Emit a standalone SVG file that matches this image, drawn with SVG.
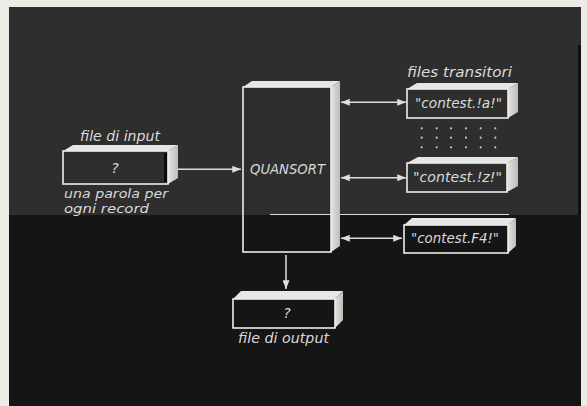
<svg xmlns="http://www.w3.org/2000/svg" width="587" height="406" viewBox="0 0 587 406">
<defs>
<marker id="ah" viewBox="0 0 10 8" refX="10" refY="4" markerWidth="9" markerHeight="7" markerUnits="userSpaceOnUse" orient="auto-start-reverse">
<path d="M0,0 L10,4 L0,8 z" fill="#dedede"/>
</marker>
<linearGradient id="side" x1="0" y1="0" x2="1" y2="0">
<stop offset="0" stop-color="#e4e4e0"/>
<stop offset="1" stop-color="#bdbdb8"/>
</linearGradient>
</defs>
<style>
.t{font-family:"DejaVu Sans","Liberation Sans",sans-serif;font-style:italic;fill:#dadada;font-size:14px}
.s{font-size:12.5px}
.face{fill:none;stroke:#ededed;stroke-width:1.6}
.top{fill:#e6e6e2}
.side{fill:url(#side)}
.con{stroke:#dedede;stroke-width:1.5;fill:none}
.dot{fill:#c8c8c8}
</style>
<rect x="0" y="0" width="587" height="406" fill="#ecebe6"/>
<rect x="9" y="7" width="572" height="208" fill="#2e2e2e"/>
<rect x="9" y="215" width="572" height="191" fill="#151515"/>
<rect x="578" y="45" width="3" height="170" fill="#111"/>
<line x1="270" y1="214.5" x2="509" y2="214.5" stroke="#d8d8d8" stroke-width="1"/>

<g id="input">
<polygon class="top" points="63,151 73,145 178,145 168,151"/>
<polygon class="side" points="168,151 178,145 178,178 168,184"/>
<rect class="face" x="63" y="151" width="105" height="33"/>
<rect x="164" y="153" width="3" height="29" fill="#0a0a0a"/>
<text class="t" x="120" y="141" text-anchor="middle" textLength="80" lengthAdjust="spacingAndGlyphs">file di input</text>
<text class="t" x="115" y="173" text-anchor="middle">?</text>
<text class="t s" x="64" y="198" textLength="104" lengthAdjust="spacingAndGlyphs">una parola per</text>
<text class="t s" x="64" y="212.5" textLength="85" lengthAdjust="spacingAndGlyphs">ogni record</text>
</g>

<g id="quansort">
<polygon class="top" points="243,87 252,81 340,81 331,87"/>
<polygon class="side" points="331,87 340,81 340,246 331,252"/>
<rect class="face" x="243" y="87" width="88" height="165"/>
<text class="t" x="287.5" y="174" text-anchor="middle" textLength="75" lengthAdjust="spacingAndGlyphs">QUANSORT</text>
</g>

<g id="file-a">
<text class="t" x="459.5" y="77" text-anchor="middle" textLength="105" lengthAdjust="spacingAndGlyphs">files transitori</text>
<polygon class="top" points="407,89 417,83 518,83 508,89"/>
<polygon class="side" points="508,89 518,83 518,112 508,118"/>
<rect class="face" x="407" y="89" width="101" height="29"/>
<text class="t" x="415" y="108" textLength="87" lengthAdjust="spacingAndGlyphs">"contest.!a!"</text>
</g>

<g id="dots">
<circle class="dot" cx="421.7" cy="128.3" r="1.1"/><circle class="dot" cx="436.7" cy="128.3" r="1.1"/><circle class="dot" cx="451" cy="128.3" r="1.1"/><circle class="dot" cx="466" cy="128.3" r="1.1"/><circle class="dot" cx="480.7" cy="128.3" r="1.1"/><circle class="dot" cx="495.3" cy="128.3" r="1.1"/>
<circle class="dot" cx="421.7" cy="137.7" r="1.1"/><circle class="dot" cx="436.7" cy="137.7" r="1.1"/><circle class="dot" cx="451" cy="137.7" r="1.1"/><circle class="dot" cx="466" cy="137.7" r="1.1"/><circle class="dot" cx="480.7" cy="137.7" r="1.1"/><circle class="dot" cx="495.3" cy="137.7" r="1.1"/>
<circle class="dot" cx="421.7" cy="147.3" r="1.1"/><circle class="dot" cx="436.7" cy="147.3" r="1.1"/><circle class="dot" cx="451" cy="147.3" r="1.1"/><circle class="dot" cx="466" cy="147.3" r="1.1"/><circle class="dot" cx="480.7" cy="147.3" r="1.1"/><circle class="dot" cx="495.3" cy="147.3" r="1.1"/>
</g>

<g id="file-z">
<polygon class="top" points="407,163 418,157 518,157 507,163"/>
<polygon class="side" points="507,163 518,157 518,186 507,192"/>
<rect class="face" x="407" y="163" width="100" height="29"/>
<text class="t" x="413" y="182" textLength="89" lengthAdjust="spacingAndGlyphs">"contest.!z!"</text>
</g>

<g id="file-f4">
<polygon class="top" points="404,225 412,218 516,218 508,225"/>
<polygon class="side" points="508,225 516,218 516,246 508,253"/>
<rect class="face" x="404" y="225" width="104" height="28"/>
<text class="t" x="411" y="243" textLength="88" lengthAdjust="spacingAndGlyphs">"contest.F4!"</text>
</g>

<g id="output">
<polygon class="top" points="233,299 241,291 343,291 335,299"/>
<polygon class="side" points="335,299 343,291 343,320 335,328"/>
<rect class="face" x="233" y="299" width="102" height="29"/>
<text class="t" x="287" y="318" text-anchor="middle">?</text>
<text class="t" x="283.5" y="343" text-anchor="middle" textLength="91" lengthAdjust="spacingAndGlyphs">file di output</text>
</g>

<g id="connectors">
<line class="con" x1="178" y1="169.3" x2="241" y2="169.3" marker-end="url(#ah)"/>
<line class="con" x1="341" y1="102.3" x2="406" y2="102.3" marker-start="url(#ah)" marker-end="url(#ah)"/>
<line class="con" x1="341" y1="177.7" x2="406" y2="177.7" marker-start="url(#ah)" marker-end="url(#ah)"/>
<line class="con" x1="341" y1="238.3" x2="402" y2="238.3" marker-start="url(#ah)" marker-end="url(#ah)"/>
<line class="con" x1="286" y1="255" x2="286" y2="289" marker-end="url(#ah)"/>
</g>
</svg>
